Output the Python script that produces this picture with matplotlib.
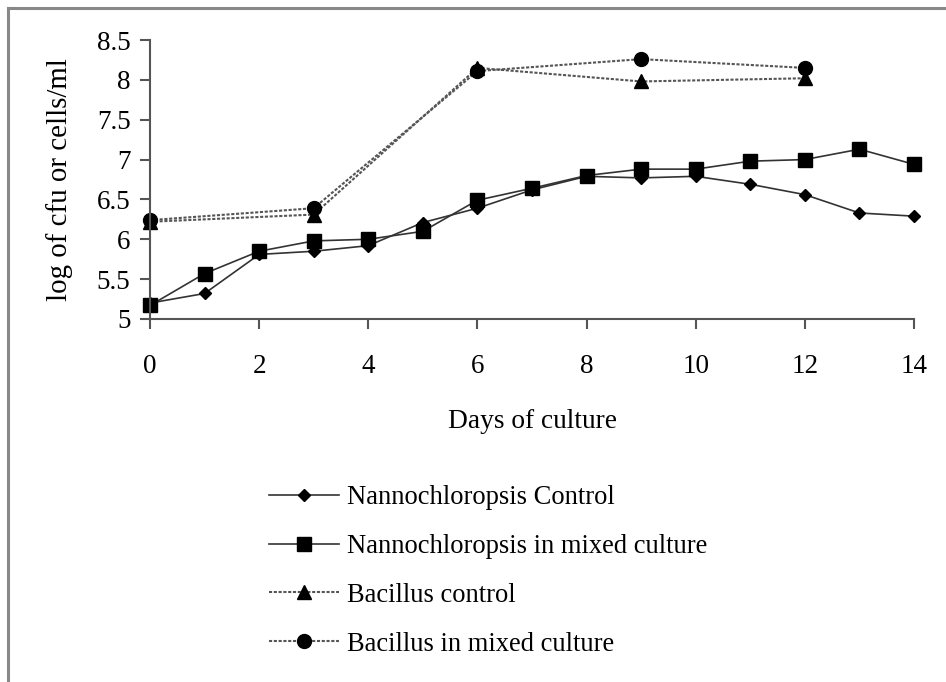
import matplotlib
matplotlib.use("Agg")
import matplotlib.pyplot as plt
from matplotlib.lines import Line2D

days_nanno = [0, 1, 2, 3, 4, 5, 6, 7, 8, 9, 10, 11, 12, 13, 14]
nanno_control = [5.2, 5.32, 5.81, 5.85, 5.92, 6.21, 6.39, 6.62, 6.79, 6.77, 6.79, 6.69, 6.56, 6.33, 6.29]
nanno_mixed = [5.17, 5.57, 5.85, 5.98, 6.0, 6.1, 6.49, 6.64, 6.8, 6.88, 6.88, 6.98, 7.0, 7.13, 6.94]
days_bac = [0, 3, 6, 9, 12]
bac_control = [6.22, 6.31, 8.15, 7.98, 8.02]
bac_mixed = [6.24, 6.39, 8.11, 8.26, 8.15]

labels = ["Nannochloropsis Control", "Nannochloropsis in mixed culture",
          "Bacillus control", "Bacillus in mixed culture"]
xticks = [0, 2, 4, 6, 8, 10, 12, 14]
yticks = [5, 5.5, 6, 6.5, 7, 7.5, 8, 8.5]
ytick_labels = ["5", "5.5", "6", "6.5", "7", "7.5", "8", "8.5"]

plt.rcParams['font.family'] = ['Liberation Serif', 'DejaVu Serif']

W, H = 946, 682
fig = plt.figure(figsize=(W / 100, H / 100), dpi=100)
ax = fig.add_axes([150 / W, 1 - 319 / H, (914 - 150) / W, (319 - 40) / H])

solid_col = '#333333'
dot_col = '#555555'
l1, = ax.plot(days_nanno, nanno_control, color=solid_col, lw=1.2, marker='D', ms=6.5,
              mfc='black', mec='black', label=labels[0])
l2, = ax.plot(days_nanno, nanno_mixed, color=solid_col, lw=1.2, marker='s', ms=10,
              mfc='black', mec='black', label=labels[1])
l3, = ax.plot(days_bac, bac_control, color=dot_col, lw=1.5, ls=(0, (1.5, 0.8)), marker='^', ms=10,
              mfc='black', mec='black', label=labels[2])
l4, = ax.plot(days_bac, bac_mixed, color=dot_col, lw=1.5, ls=(0, (1.5, 0.8)), marker='o', ms=10,
              mfc='black', mec='black', label=labels[3])

ax.set_xlim(0, 14)
ax.set_ylim(5, 8.5)
ax.set_xticks(xticks)
ax.set_xticklabels([str(t) for t in xticks])
ax.set_yticks(yticks)
ax.set_yticklabels(ytick_labels)
for s in ['top', 'right']:
    ax.spines[s].set_visible(False)
for s in ['left', 'bottom']:
    ax.spines[s].set_color('#555555')
    ax.spines[s].set_linewidth(1.5)
    ax.spines[s].set_clip_on(False)
ax.tick_params(axis='both', direction='out', length=7, width=1.5, color='#555555',
               labelsize=19.5)
ax.tick_params(axis='x', pad=18)
ax.tick_params(axis='y', pad=7)
for lab in ax.get_xticklabels() + ax.get_yticklabels():
    lab.set_clip_on(False)
for l in (l1, l2, l3, l4):
    l.set_clip_on(False)

ax.set_xlabel("Days of culture", fontsize=19.7, labelpad=22)
ax.set_ylabel("log of cfu or cells/ml", fontsize=20.8, labelpad=17)

fig.legend(handles=[l1, l2, l3, l4], labels=labels, loc='upper left',
           bbox_to_anchor=(269 / W, 1 - 485 / H), frameon=False, fontsize=19.1,
           handlelength=2.65, handletextpad=0.3, labelspacing=0.9,
           borderpad=0, borderaxespad=0)

# outer frame (left and top)
fig.add_artist(Line2D([8 / W, 8 / W], [0, 1 - 8 / H], transform=fig.transFigure,
                      color='#888888', lw=2.2))
fig.add_artist(Line2D([8 / W, 1], [1 - 8 / H, 1 - 8 / H], transform=fig.transFigure,
                      color='#888888', lw=2.2))

fig.savefig("out.png", dpi=100)
